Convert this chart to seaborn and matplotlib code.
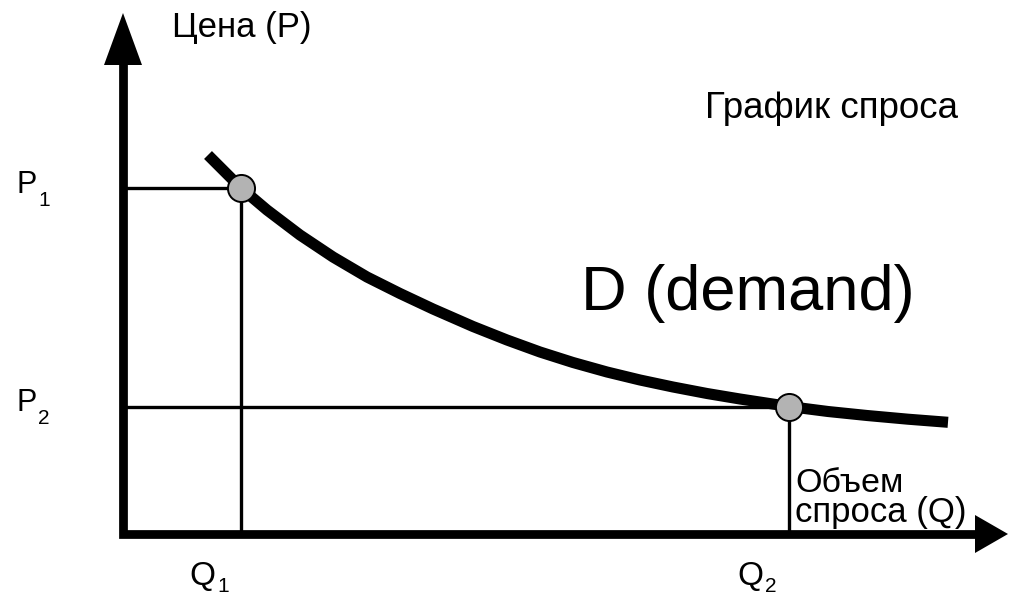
import matplotlib
matplotlib.use('Agg')
import matplotlib.pyplot as plt
import seaborn as sns
import numpy as np
import pandas as pd

# demand curve (Q and P in arbitrary units)
quantity = [0.85, 1.18, 1.44, 1.77, 2.10, 2.44, 2.77, 3.10, 3.50, 3.84, 4.17,
            4.50, 4.84, 5.17, 5.50, 5.84, 6.17, 6.66, 7.05, 7.44, 7.85, 8.25]
price = [3.79, 3.46, 3.24, 2.99, 2.77, 2.57, 2.405, 2.25, 2.075, 1.94, 1.82,
         1.715, 1.62, 1.54, 1.47, 1.405, 1.35, 1.275, 1.225, 1.185, 1.148, 1.117]

# the two marked points on the curve
point_q = [1.18, 6.66]
point_p = [3.46, 1.275]
point_idx = ['1', '2']

# axis extents (arrow tips)
q_axis_end = 8.85
p_axis_end = 5.21

W, H = 1016, 595


def to_data(px, py):
    # pixel position -> data units (origin at the axes corner, 100 px per unit)
    return (px - 123) / 100.0, (534 - py) / 100.0


sns.set_style('white')
plt.rcParams['font.family'] = ['Liberation Sans', 'DejaVu Sans']
plt.rcParams['text.color'] = 'black'

fig = plt.figure(figsize=(W / 100, H / 100), dpi=100)
ax = fig.add_axes([0, 0, 1, 1])
ax.set_xlim(-1.23, (W - 123) / 100.0)
ax.set_ylim(-(H - 534) / 100.0, 5.34)
ax.axis('off')

# === guide lines from the points to the axes ===
for q, p in zip(point_q, point_p):
    ax.plot([0, q], [p, p], color='black', lw=2.4, solid_capstyle='butt', zorder=2)
    ax.plot([q, q], [-0.03, p], color='black', lw=2.4, solid_capstyle='butt', zorder=2)

# === demand curve ===
df = pd.DataFrame({'Q': quantity, 'P': price})
sns.lineplot(data=df, x='Q', y='P', sort=False, estimator=None, color='black',
             lw=8, solid_capstyle='butt', solid_joinstyle='round', ax=ax, zorder=3)

# === points ===
sns.scatterplot(x=point_q, y=point_p, s=380, color='#b3b3b3', edgecolor='black',
                linewidth=1.4, ax=ax, zorder=5)

# === axes with arrows ===
head_len, head_half = 0.33, 0.19
ax.plot([0, 0, q_axis_end - head_len + 0.01], [p_axis_end - 0.52 + 0.01, 0, 0],
        color='black', lw=6.3, solid_joinstyle='miter', solid_capstyle='butt', zorder=4)
ax.fill([-head_half, head_half, 0], [p_axis_end - 0.52, p_axis_end - 0.52, p_axis_end],
        color='black', lw=0, zorder=4)
ax.fill([q_axis_end - head_len, q_axis_end - head_len, q_axis_end], [-head_half, head_half, 0],
        color='black', lw=0, zorder=4)

# === texts ===
ax.text(*to_data(172, 37), 'Цена (P)', fontsize=25, ha='left', va='baseline')
ax.text(*to_data(705, 118), 'График спроса', fontsize=26.5, ha='left', va='baseline')
ax.text(*to_data(581, 310), 'D (demand)', fontsize=45.5, ha='left', va='baseline')
ax.text(*to_data(795, 492), 'Объем', fontsize=24.5, ha='left', va='baseline')
ax.text(*to_data(795, 522), 'спроса (Q)', fontsize=25, ha='left', va='baseline')

# P labels tied to the point prices
for p, idx in zip(point_p, point_idx):
    ax.text(-1.07, p - 0.045, 'P', fontsize=22, ha='left', va='baseline')
    ax.text(-0.85, p - 0.175, idx, fontsize=15, ha='left', va='baseline')

# Q labels tied to the point quantities
for q, idx in zip(point_q, point_idx):
    ax.text(q - 0.52, -0.51, 'Q', fontsize=24, ha='left', va='baseline')
    ax.text(q - 0.24, -0.575, idx, fontsize=15, ha='left', va='baseline')

fig.savefig('out.png', dpi=100)
